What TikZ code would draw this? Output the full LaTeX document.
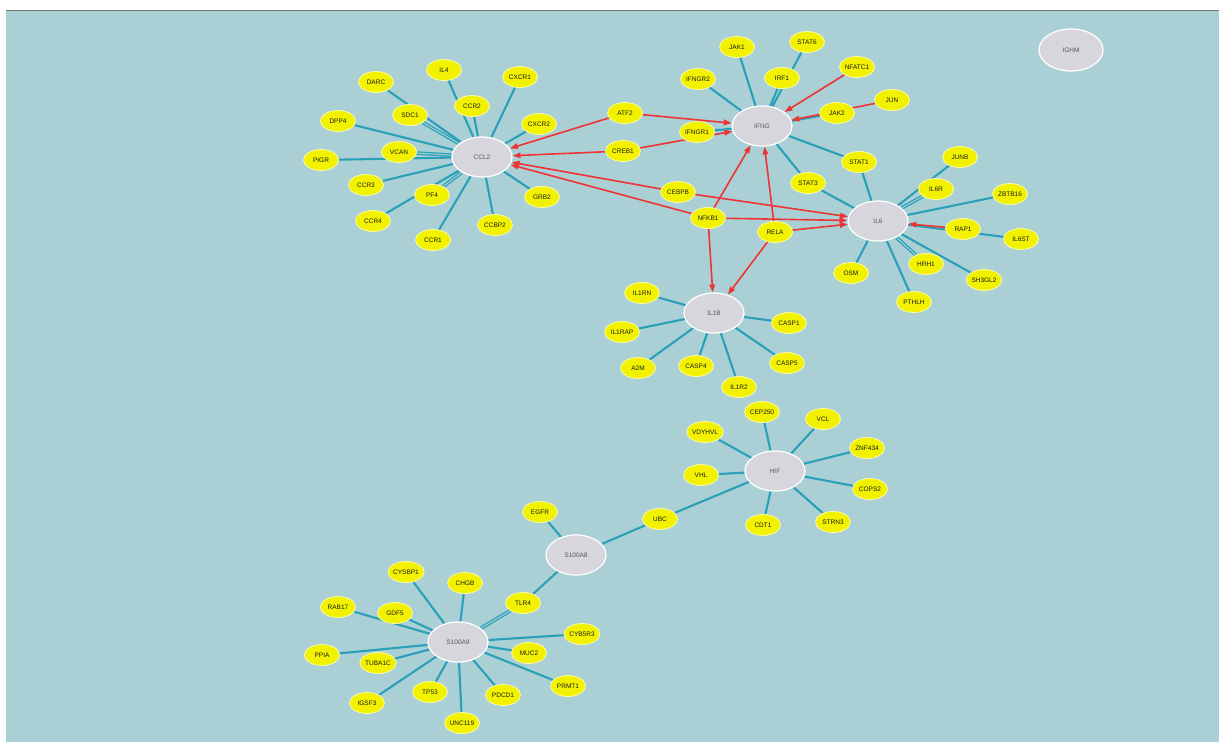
\documentclass[tikz,border=0pt]{standalone}
\usepackage{fontspec}
\setmainfont{Liberation Sans}
\usetikzlibrary{shapes.geometric,arrows.meta}
\pgfdeclarelayer{back}\pgfdeclarelayer{edges}
\pgfsetlayers{back,edges,main}
\definecolor{bgc}{RGB}{170,208,214}
\definecolor{tealc}{RGB}{42,160,184}
\definecolor{redc}{RGB}{238,52,52}
\definecolor{yel}{RGB}{242,242,0}
\definecolor{hubc}{RGB}{214,214,220}
\tikzset{
 gene/.style={ellipse,fill=yel,draw=yel!35!white,line width=0.8pt,minimum width=35pt,minimum height=21pt,inner sep=0pt,font=\fontsize{6.5}{6.5}\selectfont,text=black!90},
 hubn/.style={ellipse,fill=hubc,draw=white,line width=1.2pt,minimum width=60pt,minimum height=40pt,inner sep=0pt,font=\fontsize{6.5}{6.5}\selectfont,text=black!65},
 tl/.style={draw=tealc,line width=2.1pt},
 tld/.style={draw=tealc,line width=1.3pt,double=bgc,double distance=1pt},
 rl/.style={draw=redc,line width=1.6pt,-{Triangle[length=8pt,width=5.5pt]}}
}
\begin{document}
\begin{tikzpicture}[x=1pt,y=-1pt]
\useasboundingbox (0,0) rectangle (1219,742);
\begin{pgfonlayer}{back}
\fill[white] (0,0) rectangle (1219,742);
\fill[bgc] (6,11) rectangle (1219,742);
\draw[black!55,line width=1.6pt] (6,10.5) -- (1219,10.5);
\end{pgfonlayer}
% hubs
\node[hubn] (CCL2) at (482,157) {CCL2};
\node[hubn] (IFNG) at (762,126) {IFNG};
\node[hubn] (IL6) at (878,221) {IL6};
\node[hubn] (IL1B) at (714,313) {IL1B};
\node[hubn] (HIF) at (775,471) {HIF};
\node[hubn] (S100A8) at (576,555) {S100A8};
\node[hubn] (S100A9) at (458,642) {S100A9};
\node[hubn,minimum width=64pt,minimum height=42pt] (IGHM) at (1071,50) {IGHM};
% CCL2 cluster
\node[gene] (DARC) at (376,82) {DARC};
\node[gene] (IL4) at (444,70) {IL4};
\node[gene] (CXCR1) at (520,77) {CXCR1};
\node[gene] (CCR2) at (472,106) {CCR2};
\node[gene] (SDC1) at (410,115) {SDC1};
\node[gene] (CXCR2) at (539,124) {CXCR2};
\node[gene] (DPP4) at (338,121) {DPP4};
\node[gene] (VCAN) at (399,152) {VCAN};
\node[gene] (PIGR) at (321,160) {PIGR};
\node[gene] (CCR3) at (366,185) {CCR3};
\node[gene] (PF4) at (432,195) {PF4};
\node[gene] (GRB2) at (542,197) {GRB2};
\node[gene] (CCR4) at (373,221) {CCR4};
\node[gene] (CCBP2) at (495,225) {CCBP2};
\node[gene] (CCR1) at (433,240) {CCR1};
% IFNG cluster
\node[gene] (JAK1) at (737,47) {JAK1};
\node[gene] (STAT6) at (807,42) {STAT6};
\node[gene] (IFNGR2) at (698,79) {IFNGR2};
\node[gene] (IRF1) at (782,78) {IRF1};
\node[gene] (NFATC1) at (857,67) {NFATC1};
\node[gene] (JUN) at (892,100) {JUN};
\node[gene] (JAK2) at (837,113) {JAK2};
\node[gene] (ATF2) at (625,113) {ATF2};
\node[gene] (IFNGR1) at (697,132) {IFNGR1};
\node[gene] (CREB1) at (623,151) {CREB1};
\node[gene] (STAT1) at (859,162) {STAT1};
\node[gene] (STAT3) at (808,183) {STAT3};
\node[gene] (CEBPB) at (678,192) {CEBPB};
\node[gene] (NFKB1) at (708,218) {NFKB1};
\node[gene] (RELA) at (775,232) {RELA};
% IL6 cluster
\node[gene] (JUNB) at (960,157) {JUNB};
\node[gene] (IL6R) at (936,189) {IL6R};
\node[gene] (ZBTB16) at (1010,194) {ZBTB16};
\node[gene] (RAP1) at (963,229) {RAP1};
\node[gene] (IL6ST) at (1021,239) {IL6ST};
\node[gene] (OSM) at (851,273) {OSM};
\node[gene] (HRH1) at (926,264) {HRH1};
\node[gene] (SH3GL2) at (984,280) {SH3GL2};
\node[gene] (PTHLH) at (914,302) {PTHLH};
% IL1B cluster
\node[gene] (IL1RN) at (642,293) {IL1RN};
\node[gene] (IL1RAP) at (622,332) {IL1RAP};
\node[gene] (CASP1) at (789,323) {CASP1};
\node[gene] (A2M) at (638,368) {A2M};
\node[gene] (CASP4) at (696,366) {CASP4};
\node[gene] (CASP5) at (787,363) {CASP5};
\node[gene] (IL1R2) at (739,387) {IL1R2};
% HIF cluster
\node[gene] (CEP250) at (762,412) {CEP250};
\node[gene] (VCL) at (823,419) {VCL};
\node[gene] (VDYHVL) at (705,432) {VDYHVL};
\node[gene] (ZNF434) at (867,448) {ZNF434};
\node[gene] (VHL) at (701,475) {VHL};
\node[gene] (COPS2) at (870,489) {COPS2};
\node[gene] (UBC) at (660,519) {UBC};
\node[gene] (CDT1) at (763,525) {CDT1};
\node[gene] (STRN3) at (833,522) {STRN3};
% S100 cluster
\node[gene] (EGFR) at (540,512) {EGFR};
\node[gene] (CYSBP1) at (406,572) {CYSBP1};
\node[gene] (CHGB) at (465,583) {CHGB};
\node[gene] (RAB17) at (338,607) {RAB17};
\node[gene] (GDF5) at (395,613) {GDF5};
\node[gene] (TLR4) at (523,603) {TLR4};
\node[gene] (CYB5R3) at (582,634) {CYB5R3};
\node[gene] (PPIA) at (322,655) {PPIA};
\node[gene] (TUBA1C) at (378,663) {TUBA1C};
\node[gene] (MUC2) at (529,653) {MUC2};
\node[gene] (PRMT1) at (568,686) {PRMT1};
\node[gene] (TP53) at (430,692) {TP53};
\node[gene] (PDCD1) at (503,695) {PDCD1};
\node[gene] (IGSF3) at (367,703) {IGSF3};
\node[gene] (UNC119) at (462,723) {UNC119};
\begin{pgfonlayer}{edges}
% CCL2
\foreach \g in {DARC,IL4,CXCR1,CCR2,CXCR2,DPP4,PIGR,CCR3,GRB2,CCR4,CCBP2,CCR1}
  \draw[tl] (\g) -- (CCL2);
\foreach \g in {SDC1,VCAN,PF4}
  \draw[tld] (\g) -- (CCL2);
% IFNG
\foreach \g in {JAK1,STAT6,IFNGR2,IRF1,JAK2,IFNGR1,STAT1,STAT3}
  \draw[tl] (\g) -- (IFNG);
% IL6
\foreach \g in {STAT1,STAT3,JUNB,ZBTB16,IL6ST,OSM,SH3GL2,PTHLH}
  \draw[tl] (\g) -- (IL6);
\foreach \g in {IL6R,HRH1}
  \draw[tld] (\g) -- (IL6);
% IL1B
\foreach \g in {IL1RN,IL1RAP,CASP1,A2M,CASP4,CASP5,IL1R2}
  \draw[tl] (\g) -- (IL1B);
% HIF
\foreach \g in {CEP250,VCL,VDYHVL,ZNF434,VHL,COPS2,UBC,CDT1,STRN3}
  \draw[tl] (\g) -- (HIF);
% S100
\draw[tl] (UBC) -- (S100A8);
\draw[tl] (EGFR) -- (S100A8);
\draw[tl] (TLR4) -- (S100A8);
\foreach \g in {CYSBP1,CHGB,RAB17,GDF5,CYB5R3,PPIA,TUBA1C,MUC2,PRMT1,TP53,PDCD1,IGSF3,UNC119}
  \draw[tl] (\g) -- (S100A9);
\draw[tld] (TLR4) -- (S100A9);
% regulatory (red)
\draw[rl] (ATF2) -- (IFNG);
\draw[rl] (ATF2) -- (CCL2);
\draw[rl] (CREB1) -- (IFNG);
\draw[rl] (CREB1) -- (CCL2);
\draw[rl] (CEBPB) -- (CCL2);
\draw[rl] (CEBPB) -- (IL6);
\draw[rl] (NFKB1) -- (CCL2);
\draw[rl] (NFKB1) -- (IL6);
\draw[rl] (NFKB1) -- (IFNG);
\draw[rl] (NFKB1) -- (IL1B);
\draw[rl] (RELA) -- (IFNG);
\draw[rl] (RELA) -- (IL6);
\draw[rl] (RELA) -- (IL1B);
\draw[rl] (NFATC1) -- (IFNG);
\draw[rl] (JUN) -- (IFNG);
\draw[rl] (RAP1) -- (IL6);
\end{pgfonlayer}
\end{tikzpicture}
\end{document}
